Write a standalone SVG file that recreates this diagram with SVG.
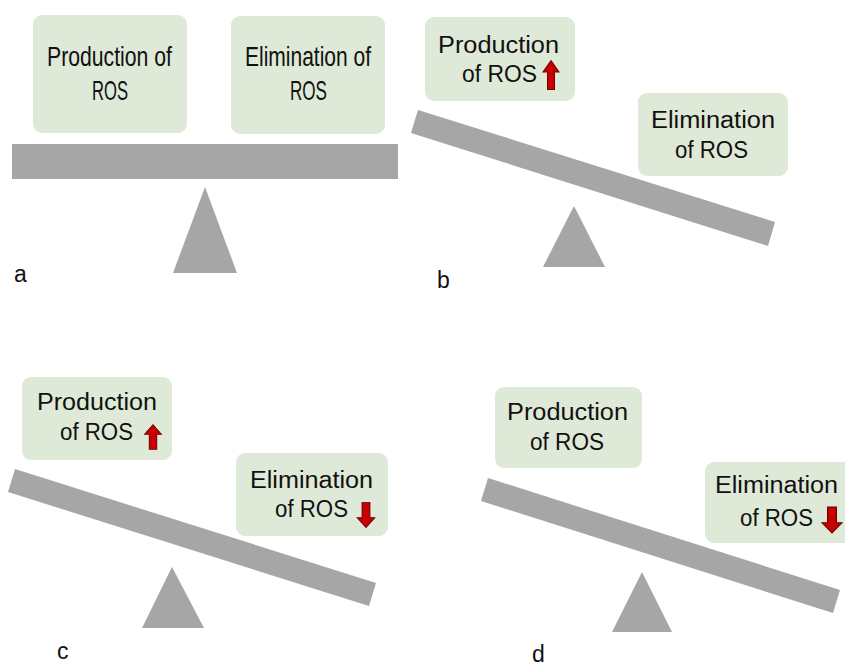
<svg xmlns="http://www.w3.org/2000/svg" xmlns:xlink="http://www.w3.org/1999/xlink" width="845" height="666" viewBox="0 0 845 666">
<style>
.box{fill:#dfe9d7;}
.beam{fill:#a6a6a6;}
.pivot{fill:#a6a6a6;}
.t{font-family:"Liberation Sans",Arial,sans-serif;fill:#111;}
.ta{font-size:28px;}
.tb{font-size:23px;}
.lbl{font-family:"Liberation Sans",Arial,sans-serif;font-size:23px;fill:#111;}
.arr{fill:#c80000;stroke:#6e0000;stroke-width:1;}
</style>
<defs>
<path id="up" class="arr" d="M0,-14 L8,-3 L3.5,-3 L3.5,14 L-3.5,14 L-3.5,-3 L-8,-3 Z"/>
</defs>
<rect width="845" height="666" fill="#ffffff"/>

<g id="panel-a">
  <g id="a-production">
    <rect class="box" x="33" y="15" width="154" height="118" rx="9"/>
    <text class="t ta" x="47" y="66" textLength="125" lengthAdjust="spacingAndGlyphs">Production of</text>
    <text class="t ta" x="92" y="100" textLength="36" lengthAdjust="spacingAndGlyphs">ROS</text>
  </g>
  <g id="a-elimination">
    <rect class="box" x="231" y="16" width="154" height="118" rx="9"/>
    <text class="t ta" x="245" y="66" textLength="126" lengthAdjust="spacingAndGlyphs">Elimination of</text>
    <text class="t ta" x="290" y="100" textLength="37" lengthAdjust="spacingAndGlyphs">ROS</text>
  </g>
  <rect id="a-beam" class="beam" x="12" y="144" width="386" height="35"/>
  <polygon id="a-pivot" class="pivot" points="205,187 237,273 173,273"/>
  <text id="a-label" class="lbl" x="14" y="282">a</text>
</g>

<g id="panel-b">
  <g id="b-production">
    <rect class="box" x="425" y="17" width="150" height="84" rx="9"/>
    <text class="t tb" x="438" y="53" textLength="121" lengthAdjust="spacingAndGlyphs">Production</text>
    <text class="t tb" x="462" y="82" textLength="75" lengthAdjust="spacingAndGlyphs">of ROS</text>
    <use xlink:href="#up" href="#up" transform="translate(551,75) scale(1,1.03)"/>
  </g>
  <g id="b-elimination">
    <rect class="box" x="638" y="93" width="150" height="83" rx="9"/>
    <text class="t tb" x="651" y="128" textLength="124" lengthAdjust="spacingAndGlyphs">Elimination</text>
    <text class="t tb" x="675" y="158" textLength="73" lengthAdjust="spacingAndGlyphs">of ROS</text>
  </g>
  <polygon id="b-beam" class="beam" points="418,110 775,222 768,246 411,133"/>
  <polygon id="b-pivot" class="pivot" points="574,206 605,267 543,267"/>
  <text id="b-label" class="lbl" x="437" y="288">b</text>
</g>

<g id="panel-c">
  <g id="c-production">
    <rect class="box" x="22" y="377" width="150" height="83" rx="9"/>
    <text class="t tb" x="37" y="410" textLength="120" lengthAdjust="spacingAndGlyphs">Production</text>
    <text class="t tb" x="60" y="440" textLength="73" lengthAdjust="spacingAndGlyphs">of ROS</text>
    <use xlink:href="#up" href="#up" transform="translate(153,437) scale(1.05,0.88)"/>
  </g>
  <g id="c-elimination">
    <rect class="box" x="236" y="453" width="152" height="83" rx="9"/>
    <text class="t tb" x="250" y="488" textLength="123" lengthAdjust="spacingAndGlyphs">Elimination</text>
    <text class="t tb" x="275" y="517" textLength="73" lengthAdjust="spacingAndGlyphs">of ROS</text>
    <use xlink:href="#up" href="#up" transform="translate(366,515) rotate(180) scale(1.1,0.9)"/>
  </g>
  <polygon id="c-beam" class="beam" points="15,469 376,583 369,606 8,492"/>
  <polygon id="c-pivot" class="pivot" points="172,567 204,628 142,628"/>
  <text id="c-label" class="lbl" x="57" y="659">c</text>
</g>

<g id="panel-d">
  <g id="d-production">
    <rect class="box" x="495" y="387" width="147" height="81" rx="9"/>
    <text class="t tb" x="507" y="420" textLength="121" lengthAdjust="spacingAndGlyphs">Production</text>
    <text class="t tb" x="530" y="450" textLength="74" lengthAdjust="spacingAndGlyphs">of ROS</text>
  </g>
  <g id="d-elimination">
    <rect class="box" x="705" y="462" width="150" height="81" rx="9"/>
    <text class="t tb" x="715" y="493" textLength="123" lengthAdjust="spacingAndGlyphs">Elimination</text>
    <text class="t tb" x="740" y="526" textLength="73" lengthAdjust="spacingAndGlyphs">of ROS</text>
    <use xlink:href="#up" href="#up" transform="translate(832,520) rotate(180) scale(1.25,0.93)"/>
  </g>
  <polygon id="d-beam" class="beam" points="488,478 840,590 833,613 481,501"/>
  <polygon id="d-pivot" class="pivot" points="642,572 672,632 612,632"/>
  <text id="d-label" class="lbl" x="532" y="662">d</text>
</g>
</svg>
